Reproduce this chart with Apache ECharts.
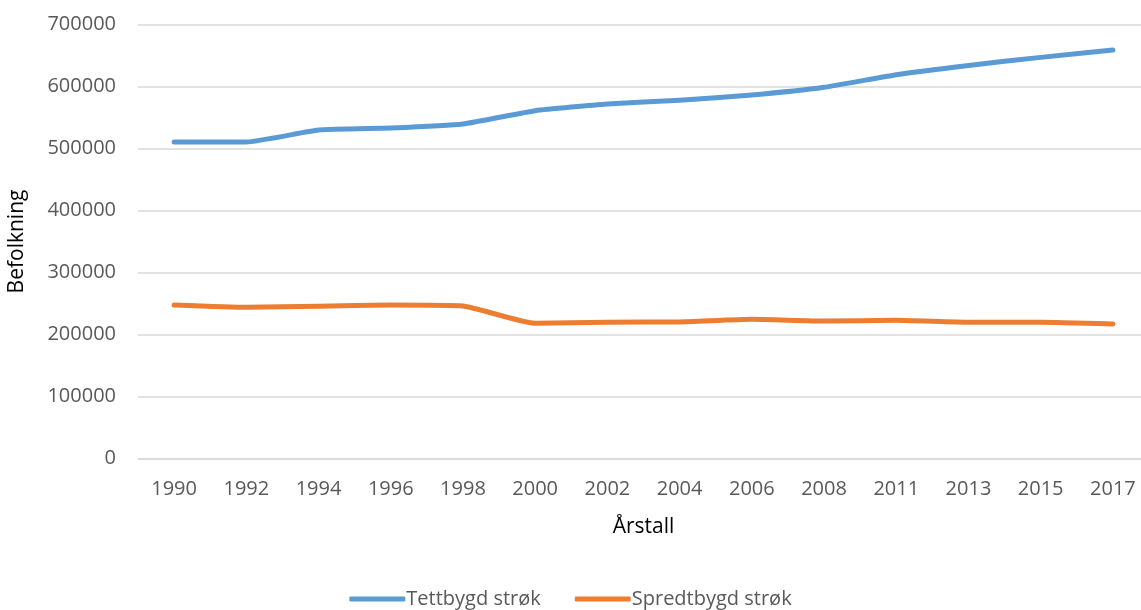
<!DOCTYPE html>
<html>
<head>
<meta charset="utf-8">
<script src="https://cdn.jsdelivr.net/npm/echarts@6/dist/echarts.min.js"></script>
<style>
html,body{margin:0;padding:0;background:#fff;}
#chart{width:1141px;height:610px;}
</style>
</head>
<body>
<div id="chart"></div>
<script>
const years = ['1990','1992','1994','1996','1998','2000','2002','2004','2006','2008','2011','2013','2015','2017'];
const tettbygd = [510500, 510500, 529800, 533000, 539500, 561000, 571800, 578000, 586300, 598700, 619000, 634000, 647000, 659000];
const spredtbygd = [247600, 243900, 245500, 247600, 246000, 218000, 219900, 220200, 224500, 221800, 222900, 219700, 219700, 217000];
const seriesNames = ['Tettbygd strøk', 'Spredtbygd strøk'];
const colors = ['#5B9BD5', '#ED7D31'];

const chart = echarts.init(document.getElementById('chart'), null, {renderer:'canvas'});
const font = 'Open Sans';
chart.setOption({
  animation: false,
  backgroundColor: '#ffffff',
  grid: {left: 138, width: 1011, top: 24.5, height: 434, containLabel: false, outerBoundsMode: 'none'},
  legend: {
    data: seriesNames,
    left: 'center',
    top: 584,
    itemWidth: 56,
    itemHeight: 5,
    itemGap: 34,
    icon: 'roundRect',
    textStyle: {fontFamily: font, fontSize: 20, color: '#595959', padding: [0,0,0,-4]}
  },
  xAxis: {
    type: 'category',
    data: years,
    boundaryGap: true,
    axisLine: {show: true, lineStyle: {color: '#D9D9D9', width: 1.5}},
    axisTick: {show: false},
    axisLabel: {fontFamily: font, fontSize: 20, color: '#595959', margin: 21},
    name: 'Årstall',
    nameLocation: 'middle',
    nameGap: 58,
    nameTextStyle: {fontFamily: font, fontSize: 21, color: '#000000'}
  },
  yAxis: {
    type: 'value',
    min: 0,
    max: 700000,
    interval: 100000,
    axisLine: {show: false},
    axisTick: {show: false},
    splitLine: {lineStyle: {color: '#D9D9D9', width: 1.5}},
    axisLabel: {fontFamily: font, fontSize: 20, color: '#595959', margin: 22, formatter: v => String(v)},
    name: 'Befolkning',
    nameLocation: 'middle',
    nameGap: 110,
    nameTextStyle: {fontFamily: font, fontSize: 21, color: '#000000'}
  },
  series: [
    {name: seriesNames[0], type: 'line', data: tettbygd, symbol: 'none', smooth: 0.15,
     lineStyle: {color: colors[0], width: 5, cap: 'round', join: 'round'}, itemStyle: {color: colors[0]}},
    {name: seriesNames[1], type: 'line', data: spredtbygd, symbol: 'none', smooth: 0.15,
     lineStyle: {color: colors[1], width: 5, cap: 'round', join: 'round'}, itemStyle: {color: colors[1]}}
  ]
});
</script>
</body>
</html>
